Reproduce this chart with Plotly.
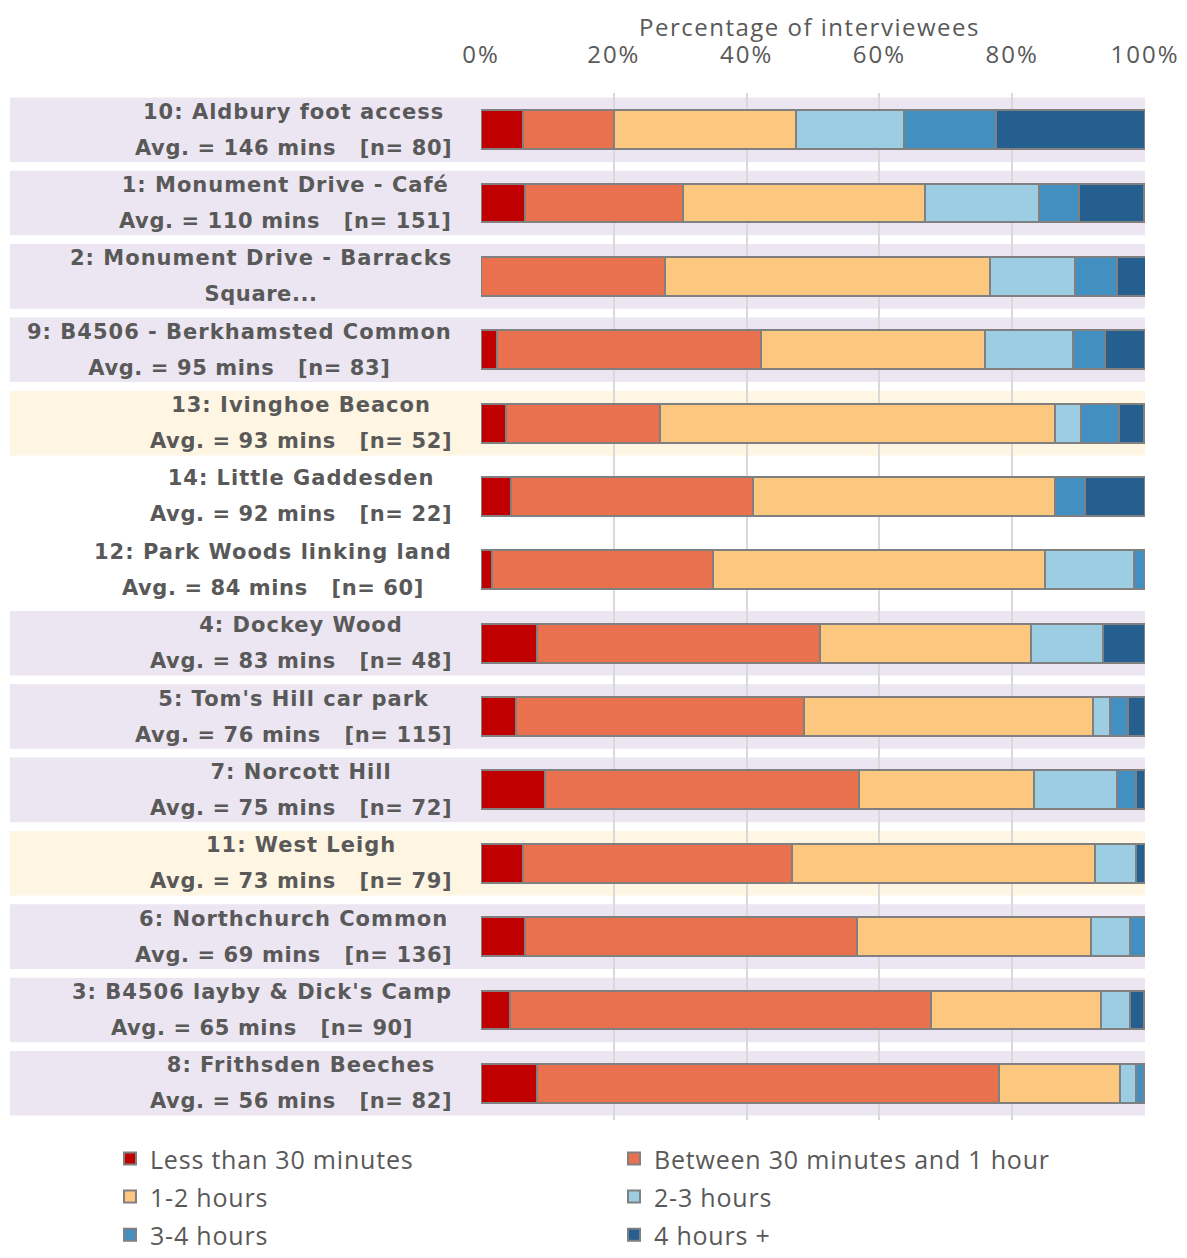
import plotly.graph_objects as go

sites = [
    "10: Aldbury foot access", "1: Monument Drive - Café", "2: Monument Drive - Barracks",
    "9: B4506 - Berkhamsted Common", "13: Ivinghoe Beacon", "14: Little Gaddesden",
    "12: Park Woods linking land", "4: Dockey Wood", "5: Tom's Hill car park",
    "7: Norcott Hill", "11: West Leigh", "6: Northchurch Common",
    "3: B4506 layby & Dick's Camp", "8: Frithsden Beeches",
]
second_lines = [
    "Avg. = 146 mins   [n= 80]", "Avg. = 110 mins   [n= 151]", "Square...",
    "Avg. = 95 mins   [n= 83]", "Avg. = 93 mins   [n= 52]", "Avg. = 92 mins   [n= 22]",
    "Avg. = 84 mins   [n= 60]", "Avg. = 83 mins   [n= 48]", "Avg. = 76 mins   [n= 115]",
    "Avg. = 75 mins   [n= 72]", "Avg. = 73 mins   [n= 79]", "Avg. = 69 mins   [n= 136]",
    "Avg. = 65 mins   [n= 90]", "Avg. = 56 mins   [n= 82]",
]
series_names = ["Less than 30 minutes", "Between 30 minutes and 1 hour", "1-2 hours",
                "2-3 hours", "3-4 hours", "4 hours +"]

less_30 =   [6.25, 6.6, 0.0, 2.4, 3.8, 4.5, 1.7, 8.5, 5.2, 9.7, 6.3, 6.6, 4.4, 8.5]
m30_1h =    [13.75, 23.8, 27.7, 39.8, 23.1, 36.4, 33.3, 42.6, 43.5, 47.2, 40.5, 50.0, 63.3, 69.5]
h1_2 =      [27.5, 36.4, 48.9, 33.7, 59.6, 45.5, 50.0, 31.8, 43.5, 26.4, 45.6, 35.3, 25.6, 18.3]
h2_3 =      [16.25, 17.2, 12.8, 13.3, 3.8, 0.0, 13.3, 10.7, 2.6, 12.5, 6.3, 5.9, 4.4, 2.4]
h3_4 =      [13.75, 6.0, 6.4, 4.8, 5.8, 4.5, 1.7, 0.0, 2.6, 2.8, 0.0, 2.2, 0.0, 1.2]
h4_plus =   [22.5, 9.9, 4.3, 6.0, 3.8, 9.1, 0.0, 6.4, 2.6, 1.4, 1.3, 0.0, 2.2, 0.0]
series_values = [less_30, m30_1h, h1_2, h2_3, h3_4, h4_plus]

x_ticks = [0, 20, 40, 60, 80, 100]
x_title = "Percentage of interviewees"

colors = ["#C00000", "#E9714E", "#FCC880", "#9DCDE2", "#428FC2", "#245F90"]
band_colors = ["#EBE6F1", "#EBE6F1", "#EBE6F1", "#EBE6F1", "#FEF5E2", "white", "white",
               "#EBE6F1", "#EBE6F1", "#EBE6F1", "#FEF5E2", "#EBE6F1", "#EBE6F1", "#EBE6F1"]

GRAY = "#595959"


def sp(text, size, ls):
    return f"<span style='font-size:{size}px;letter-spacing:{ls}px'>{text}</span>"


fig = go.Figure()
for name, vals, col in zip(series_names, series_values, colors):
    fig.add_trace(go.Bar(
        y=sites, x=vals, name=sp(name, 25, 0.8), orientation="h",
        marker=dict(color=col, line=dict(color="#808080", width=2)),
        width=0.53,
    ))

W, H = 1187, 1272
L, R, T, B = 473, 50, 85, 160
pw = W - L - R

shapes = []
for i, c in enumerate(band_colors):
    shapes.append(dict(type="rect", xref="paper", yref="y", x0=(2 - L) / pw, x1=1,
                       y0=i - 0.44, y1=i + 0.44, fillcolor=c, line=dict(width=0), layer="below"))

annotations = []
for i, (s, l2) in enumerate(zip(sites, second_lines)):
    txt = sp(s, 21, 1) + "<br>" + sp(l2.replace(" ", chr(160)), 21, 0.6)
    annotations.append(dict(
        xref="paper", yref="y", x=(446 - L) / pw, y=i, text=txt, showarrow=False,
        xanchor="right", yanchor="middle", align="center",
        font=dict(family="DejaVu Sans", size=28, color=GRAY, weight="bold"),
    ))

# axis title (placed above the top tick labels)
annotations.append(dict(
    xref="paper", yref="paper", x=0.495, y=1, yshift=67, text=sp(x_title, 24, 1.5),
    showarrow=False, xanchor="center", yanchor="middle",
    font=dict(family="Open Sans", size=24, color=GRAY),
))

fig.update_layout(
    width=W, height=H, margin=dict(l=L, r=R, t=T, b=B, autoexpand=False),
    paper_bgcolor="white", plot_bgcolor="rgba(0,0,0,0)",
    barmode="stack", bargap=0.47,
    font=dict(family="Open Sans", color=GRAY, size=24),
    xaxis=dict(side="top", range=[0, 100], tickvals=x_ticks,
               ticktext=[sp(f"{v}%", 24, 2) for v in x_ticks],
               showgrid=True, gridcolor="#D9D9D9", gridwidth=2, zeroline=False,
               showline=False, ticks="", tickfont=dict(size=24, color=GRAY),
               ticklabelstandoff=24, ticklabeloverflow="allow", automargin=False,
               fixedrange=True),
    yaxis=dict(categoryorder="array", categoryarray=sites, autorange="reversed",
               showticklabels=False, showgrid=False, zeroline=False, ticks="",
               range=[13.55, -0.55], automargin=False),
    shapes=shapes, annotations=annotations,
    legend=dict(orientation="h", x=(102 - L) / pw, xanchor="left", y=-0.014, yanchor="top",
                entrywidth=459, entrywidthmode="pixels", traceorder="normal",
                font=dict(size=27, color=GRAY)),
)
fig.write_html("out.html")
